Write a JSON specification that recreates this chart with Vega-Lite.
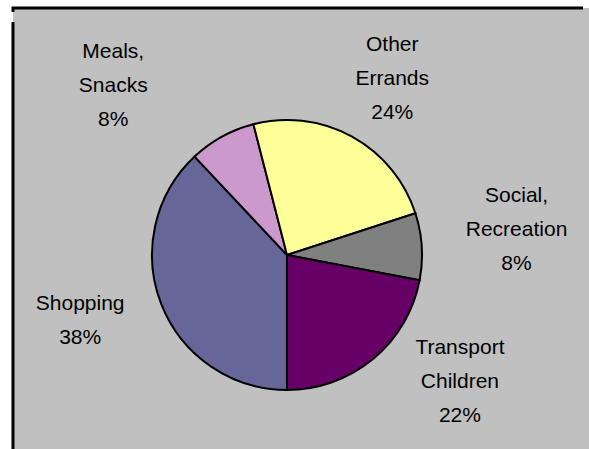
{
  "$schema": "https://vega.github.io/schema/vega-lite/v6.json",
  "autosize": {"type": "fit", "contains": "padding"},
  "width": 589,
  "height": 449,
  "padding": {"left": 13, "top": 8, "right": -3, "bottom": -3},
  "background": "white",
  "config": {
    "view": {"fill": "#C0C0C0", "stroke": "black", "strokeWidth": 3, "strokeDash": [570, 1018, 444, 10]},
    "text": {"font": "Liberation Sans", "fontSize": 21, "lineHeight": 34, "fill": "black", "lineBreak": "\n", "align": "center", "baseline": "middle"}
  },
  "data": {
    "values": [
      {"cat": "Shopping", "value": 38, "rank": 1, "label": "Shopping\n38%"},
      {"cat": "Meals, Snacks", "value": 8, "rank": 2, "label": "Meals,\nSnacks\n8%"},
      {"cat": "Other Errands", "value": 24, "rank": 3, "label": "Other\nErrands\n24%"},
      {"cat": "Social, Recreation", "value": 8, "rank": 4, "label": "Social,\nRecreation\n8%"},
      {"cat": "Transport Children", "value": 22, "rank": 5, "label": "Transport\nChildren\n22%"}
    ]
  },
  "encoding": {
    "theta": {"field": "value", "type": "quantitative", "stack": true, "scale": {"range": [3.14159265, 9.42477796]}},
    "order": {"field": "rank", "type": "quantitative"},
    "x": {"value": 274},
    "y": {"value": 247}
  },
  "layer": [
    {
      "mark": {"type": "arc", "outerRadius": 135, "stroke": "black", "strokeWidth": 2},
      "encoding": {
        "color": {
          "field": "cat", "type": "nominal", "legend": null,
          "scale": {
            "domain": ["Shopping", "Meals, Snacks", "Other Errands", "Social, Recreation", "Transport Children"],
            "range": ["#666699", "#CC99CC", "#FFFF99", "#808080", "#660066"]
          }
        }
      }
    },
    {
      "mark": {"type": "text", "clip": true, "radius": 216, "dx": -6, "dy": -31},
      "encoding": {"text": {"condition": {"test": "datum.cat === 'Shopping'", "field": "label"}, "value": ""}}
    },
    {
      "mark": {"type": "text", "clip": true, "radius": 234, "dx": -61, "dy": 2},
      "encoding": {"text": {"condition": {"test": "datum.cat === 'Meals, Snacks'", "field": "label"}, "value": ""}}
    },
    {
      "mark": {"type": "text", "clip": true, "radius": 206, "dx": 6, "dy": -29},
      "encoding": {"text": {"condition": {"test": "datum.cat === 'Other Errands'", "field": "label"}, "value": ""}}
    },
    {
      "mark": {"type": "text", "clip": true, "radius": 231, "dx": -1, "dy": -44},
      "encoding": {"text": {"condition": {"test": "datum.cat === 'Social, Recreation'", "field": "label"}, "value": ""}}
    },
    {
      "mark": {"type": "text", "clip": true, "radius": 207, "dx": 41, "dy": -66},
      "encoding": {"text": {"condition": {"test": "datum.cat === 'Transport Children'", "field": "label"}, "value": ""}}
    }
  ]
}
